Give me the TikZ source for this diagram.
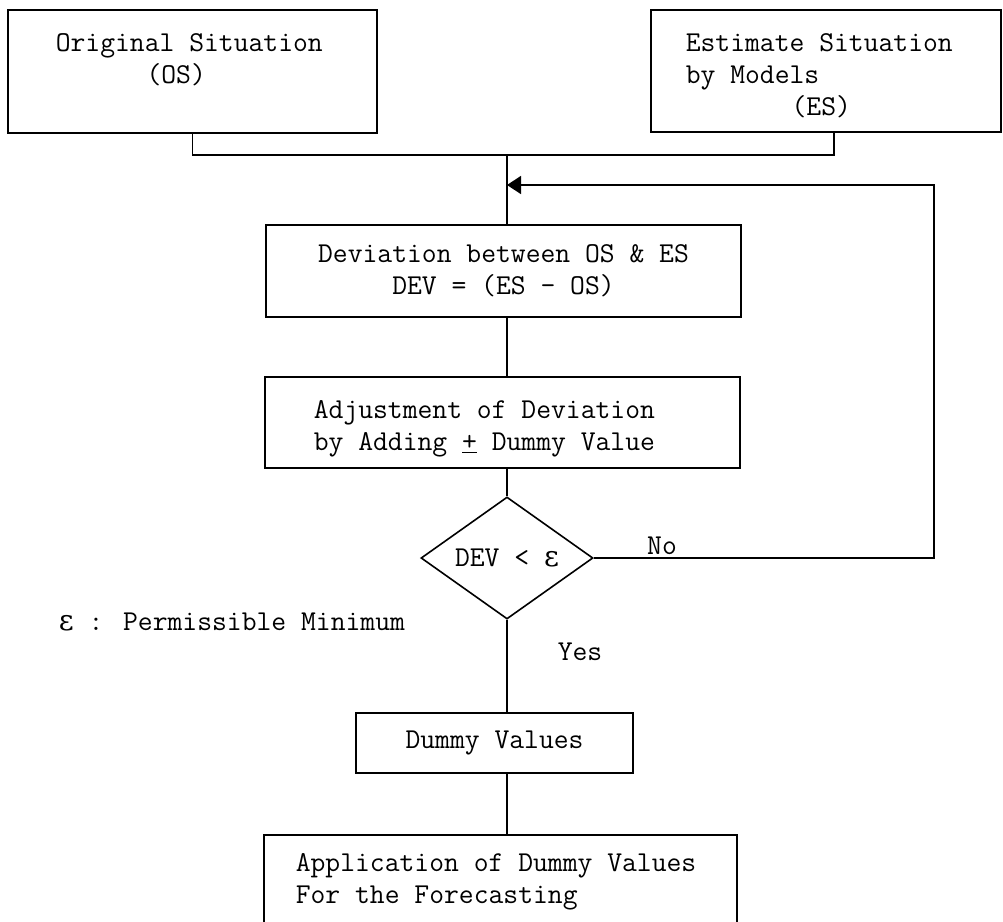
\documentclass[tikz,border=0pt]{standalone}
\usepackage{fontspec}
\newfontfamily\greekfont{DejaVu Serif}
\usetikzlibrary{shapes.geometric,arrows.meta}
\begin{document}
\begin{tikzpicture}[
  x = 1pt,
  y = -1pt,
  line width = 1.6pt,
  box/.style = {
    shape = rectangle,
    draw,
    inner sep = 0pt,
    align = center,
  },
  decision/.style = {
    shape = diamond,
    draw,
    inner sep = 0pt,
    minimum width = 172pt,
    minimum height = 100pt,
  },
  txt/.style = {
    inner sep = 0pt,
    align = left,
    anchor = north west,
  },
  every node/.style = {
    font = \fontsize{28.8}{32}\selectfont\ttfamily
  }
]
  \clip (0, 0) rectangle (1003, 921);

  \node[box, minimum width = 369pt, minimum height = 123pt] (os) at (192.5, 71.5) {};
  \node[txt] (ostext) at (55, 33) {Original Situation\\\hspace*{3.15em}(OS)};
  \node[box, minimum width = 350pt, minimum height = 122pt] (es) at (826, 71) {};
  \node[txt] (estext) at (685, 33) {Estimate Situation\\by Models\\\hspace*{3.675em}(ES)};

  \coordinate (join) at (507, 155);
  \coordinate (esx) at (834, 155);
  \coordinate (back) at (507, 185);
  \coordinate (loopx) at (934, 185);

  \node[box, minimum width = 475pt, minimum height = 92pt] (dev) at (503.5, 271)
    {Deviation between OS \& ES\\DEV = (ES - OS)};
  \node[box, minimum width = 475pt, minimum height = 91pt] (adj) at (502.5, 422.5) {};
  \node[txt] (adjtext) at (313, 400) {Adjustment of Deviation\\by Adding \underline{+} Dummy Value};
  \node[decision] (diam) at (507, 558) {DEV < {\greekfont ε}};
  \node[box, minimum width = 277pt, minimum height = 60pt] (dummy) at (494.5, 743) {Dummy Values};
  \node[box, minimum width = 473pt, minimum height = 110pt] (app) at (500.5, 890) {};
  \node[txt] (apptext) at (295, 853) {Application of Dummy Values\\For the Forecasting};

  \node[inner sep = 0pt, anchor = south] (no) at (662, 555) {No};
  \node (yes) at (580, 652) {Yes};
  \node[inner sep = 0pt, anchor = west] (legend) at (58, 622) {{\greekfont ε} : Permissible Minimum};

  \draw (os.south) |- (esx) -- (esx |- es.south);
  \draw (join) -- (dev.north -| join);
  \draw (dev.south -| join) -- (adj.north -| join);
  \draw (adj.south -| join) -- (diam.north);
  \draw (diam.south) -- (dummy.north -| diam.south);
  \draw (dummy.south -| diam.south) -- (app.north -| diam.south);
  \draw[-{Triangle[length = 14pt, width = 18pt]}] (diam.east) -- (diam.east -| loopx) |- (back);
\end{tikzpicture}
\end{document}
